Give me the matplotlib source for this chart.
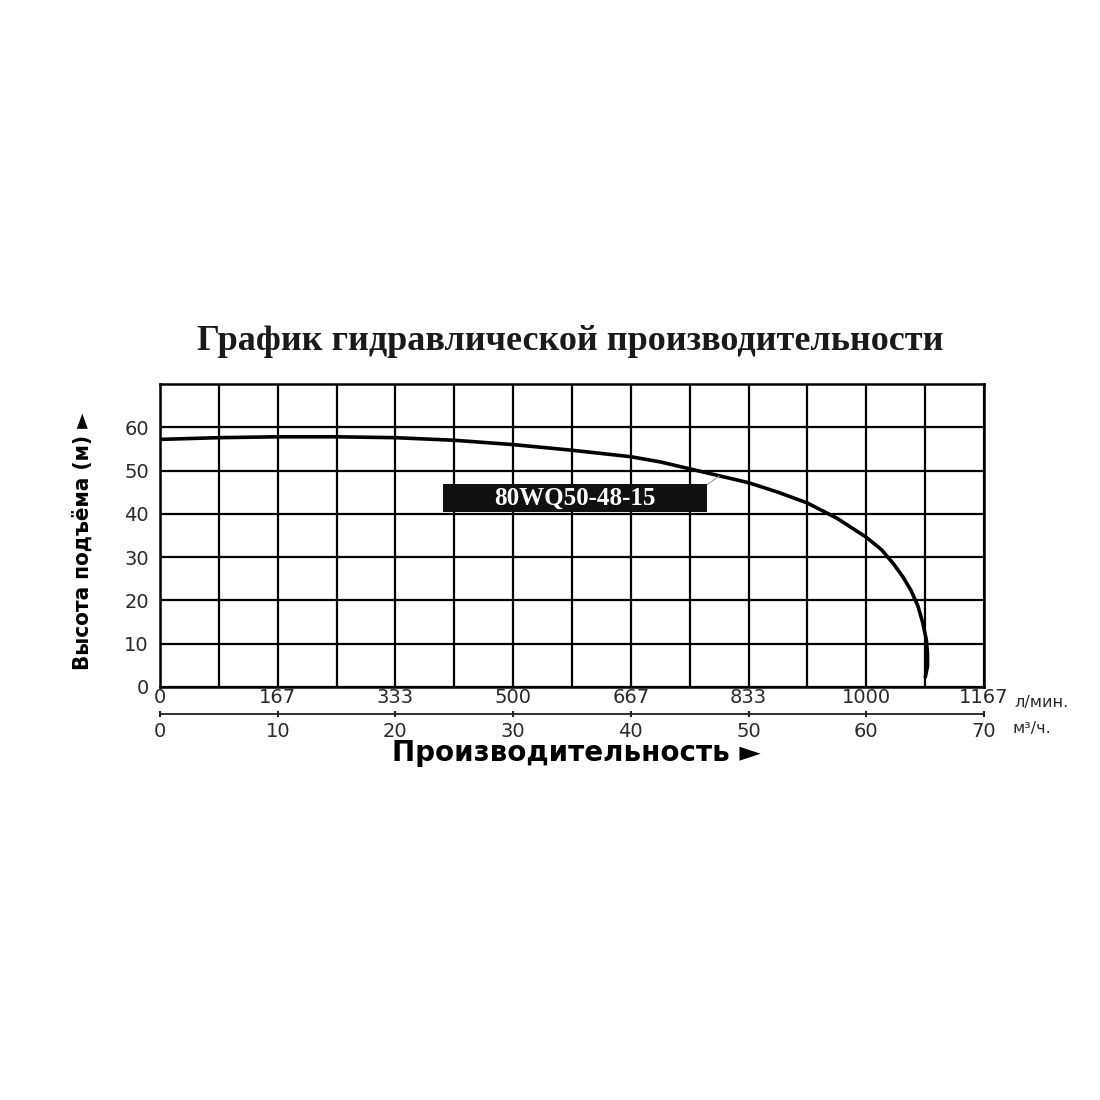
import matplotlib
matplotlib.use("Agg")
import matplotlib.pyplot as plt
from matplotlib.patches import Rectangle
import numpy as np

# head curve: flow (m3/h) -> head (m)
flow_m3h = [0, 5, 10, 15, 20, 25, 30, 35, 40, 42.5, 45, 47.5, 50, 52.5, 55,
            57.5, 60, 61.3, 62.3, 63.1, 63.8, 64.4, 64.8, 65.1, 65.2, 65.2, 65.0]
head_m = [57.2, 57.6, 57.8, 57.8, 57.6, 57.0, 56.0, 54.7, 53.2, 52.0, 50.4,
          48.8, 47.2, 45.0, 42.5, 39.0, 34.6, 31.7, 28.5, 25.5, 22.3, 18.6,
          14.8, 10.9, 7.8, 4.8, 2.1]

head_ticks = [0, 10, 20, 30, 40, 50, 60]
scale_m3h = [0, 10, 20, 30, 40, 50, 60, 70]
scale_lpm = ["0", "167", "333", "500", "667", "833", "1000", "1167"]

model_name = "80WQ50-48-15"
title = "График гидравлической производительности"
ylabel = "Высота подъёма (м) ►"
xlabel = "Производительность ►"

TICK_COLOR = "#2a2a2a"
TICK_FONT = ["DejaVu Sans"]

fig = plt.figure(figsize=(11, 11), dpi=100)
L, R = 160 / 1100, 984 / 1100
B, T = 1 - 687 / 1100, 1 - 384 / 1100
ax = fig.add_axes([L, B, R - L, T - B])

ax.set_xlim(0, 70)
ax.set_ylim(0, 70)
ax.set_xticks(np.arange(0, 71, 5))
ax.set_yticks(head_ticks)
ax.grid(True, color="black", lw=1.6)
ax.set_axisbelow(True)
for sp in ax.spines.values():
    sp.set_color("black")
    sp.set_linewidth(1.8)
ax.tick_params(axis="x", length=0, labelbottom=False)
ax.tick_params(axis="y", length=0, pad=8, labelsize=14, labelcolor=TICK_COLOR)
for lab in ax.get_yticklabels():
    lab.set_family(TICK_FONT)

ax.plot(flow_m3h, head_m, color="black", lw=2.6, solid_capstyle="butt",
        solid_joinstyle="round", zorder=4)

# model label box with a thin leader to the curve
box = Rectangle((24.0, 40.5), 22.5, 6.3, facecolor="#111111", edgecolor="none", zorder=5)
ax.add_patch(box)
ax.text(35.25, 43.5, model_name, color="white", ha="center", va="center",
        fontsize=18, fontweight="bold", family="Liberation Serif", zorder=6)
ax.annotate("", xy=(47.5, 48.7), xytext=(46.5, 46.8),
            arrowprops=dict(arrowstyle="-", color="#999999", lw=0.8,
                            shrinkA=0, shrinkB=0), zorder=5)

ax.set_ylabel(ylabel, fontsize=16, fontweight="bold", fontstretch="condensed",
              family="DejaVu Sans")
ax.yaxis.set_label_coords(-0.082, 0.48)

# double flow scale below the grid
line_y = 1 - 714.3 / 1100
ax2 = fig.add_axes([L, line_y, R - L, 1e-4])
ax2.set_xlim(0, 70)
ax2.set_yticks([])
for s in ("top", "left", "right"):
    ax2.spines[s].set_visible(False)
ax2.spines["bottom"].set_color("#222222")
ax2.spines["bottom"].set_linewidth(1.3)
ax2.set_xticks(scale_m3h)
ax2.set_xticklabels([str(v) for v in scale_m3h])
ax2.tick_params(axis="x", direction="inout", length=5, width=1.5, color="#222222",
                pad=3, labelsize=14, labelcolor=TICK_COLOR)
ax2.patch.set_visible(False)

ax3 = ax2.twiny()
ax3.set_xlim(0, 70)
for s in ax3.spines.values():
    s.set_visible(False)
ax3.set_xticks(scale_m3h)
ax3.set_xticklabels(scale_lpm)
ax3.tick_params(axis="x", length=0, pad=5, labelsize=14, labelcolor=TICK_COLOR)
for a in (ax2, ax3):
    for lab in a.get_xticklabels():
        lab.set_family(TICK_FONT)

fig.text(1014 / 1100, 1 - 702 / 1100, "л/мин.", fontsize=11.5, color=TICK_COLOR,
         ha="left", va="center", family="DejaVu Sans")
fig.text(1013 / 1100, 1 - 729 / 1100, "м³/ч.", fontsize=11.5, color=TICK_COLOR,
         ha="left", va="center", family="DejaVu Sans")

fig.text(576 / 1100, 1 - 753 / 1100, xlabel, fontsize=20, fontweight="bold",
         ha="center", va="center", family="DejaVu Sans")
fig.text(570 / 1100, 1 - 341 / 1100, title, fontsize=26, fontweight="bold",
         ha="center", va="center", color="#1a1a1a", family="Liberation Serif")

fig.savefig("out.png", dpi=100, facecolor="white")
